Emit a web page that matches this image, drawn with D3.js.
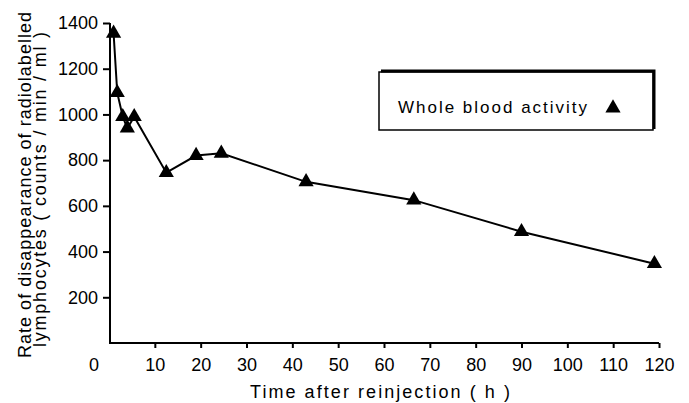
<!DOCTYPE html>
<html>
<head>
<meta charset="utf-8">
<script src="https://cdn.jsdelivr.net/npm/d3@7"></script>
<style>
  body { margin: 0; background: #fff; }
  text { font-family: "Liberation Sans", Arial, sans-serif; fill: #000; }
</style>
</head>
<body>
<div id="viz"></div>
<script>
// time after reinjection (h) and whole blood activity (counts/min/ml)
const hours = [1, 1.8, 3, 4, 5.5, 12.5, 19, 24.5, 43, 66.5, 90, 119];
const activity = [1355, 1095, 990, 940, 990, 745, 820, 830, 705, 625, 487, 347];
const xTicks = [10, 20, 30, 40, 50, 60, 70, 80, 90, 100, 110, 120];
const yTicks = [200, 400, 600, 800, 1000, 1200, 1400];
const legendLabel = "Whole blood activity";

document.addEventListener("DOMContentLoaded", () => {
    const width = 689;
    const height = 403;

    const svg = d3.select('#viz').append('svg')
        .attr('width', width)
        .attr('height', height);

    const x = d3.scaleLinear().domain([0, 120]).range([109, 659]);
    const y = d3.scaleLinear().domain([0, 1400]).range([343, 23]);

    // x axis
    const xAxis = svg.append('g')
        .attr('transform', `translate(0, ${y(0)})`)
        .call(d3.axisBottom(x).tickValues(xTicks).tickSize(5).tickPadding(9).tickSizeOuter(0));
    xAxis.select('.domain').attr('stroke-width', 2).attr('d', `M${x(0)},0H${x(120)}`);
    xAxis.selectAll('.tick line').attr('stroke-width', 2);
    xAxis.selectAll('.tick text').attr('font-size', 18).attr('dy', '0.75em');

    svg.append('text')
        .attr('x', x(0) - 15)
        .attr('y', y(0) + 14)
        .attr('dy', '0.75em')
        .attr('text-anchor', 'middle')
        .attr('font-size', 18)
        .text('0');

    // y axis
    const yAxis = svg.append('g')
        .attr('transform', `translate(${x(0) + 1}, 0)`)
        .call(d3.axisLeft(y).tickValues(yTicks).tickFormat(d3.format('d'))
            .tickSize(7).tickPadding(5).tickSizeOuter(0));
    yAxis.select('.domain').attr('stroke-width', 2).attr('d', `M0,${y(0)}V${y(1400)}`);
    yAxis.selectAll('.tick line').attr('stroke-width', 2);
    yAxis.selectAll('.tick text').attr('font-size', 18);

    // axis titles
    svg.append('text')
        .attr('x', 250)
        .attr('y', 398)
        .attr('font-size', 18)
        .attr('textLength', 260)
        .attr('lengthAdjust', 'spacing')
        .text('Time after reinjection ( h )');

    svg.append('text')
        .attr('transform', 'translate(31, 358) rotate(-90)')
        .attr('font-size', 18)
        .attr('textLength', 346)
        .attr('lengthAdjust', 'spacing')
        .text('Rate of disappearance of radiolabelled');

    svg.append('text')
        .attr('transform', 'translate(46, 347) rotate(-90)')
        .attr('font-size', 18)
        .attr('textLength', 315)
        .attr('lengthAdjust', 'spacing')
        .text('lymphocytes ( counts / min / ml )');

    // line + markers
    const points = hours.map((h, i) => ({ h: h, v: activity[i] }));

    svg.append('path')
        .datum(points)
        .attr('fill', 'none')
        .attr('stroke', 'black')
        .attr('stroke-width', 2)
        .attr('d', d3.line().x(d => x(d.h)).y(d => y(d.v)));

    const tri = d3.symbol().type(d3.symbolTriangle).size(100);

    svg.selectAll('.marker')
        .data(points)
        .enter()
        .append('path')
        .attr('class', 'marker')
        .attr('d', tri)
        .attr('transform', d => `translate(${x(d.h)}, ${y(d.v)})`)
        .attr('fill', 'black');

    // legend
    const legend = svg.append('g');
    legend.append('rect')
        .attr('x', 379).attr('y', 72)
        .attr('width', 274).attr('height', 58)
        .attr('fill', 'white')
        .attr('stroke', 'black')
        .attr('stroke-width', 1.5);
    legend.append('path')
        .attr('d', 'M381,71H654V129')
        .attr('fill', 'none')
        .attr('stroke', 'black')
        .attr('stroke-width', 3);
    legend.append('text')
        .attr('x', 398)
        .attr('y', 113)
        .attr('font-size', 17)
        .attr('textLength', 189)
        .attr('lengthAdjust', 'spacing')
        .text(legendLabel);
    legend.append('path')
        .attr('d', tri)
        .attr('transform', 'translate(613, 108)')
        .attr('fill', 'black');
});
</script>
</body>
</html>
